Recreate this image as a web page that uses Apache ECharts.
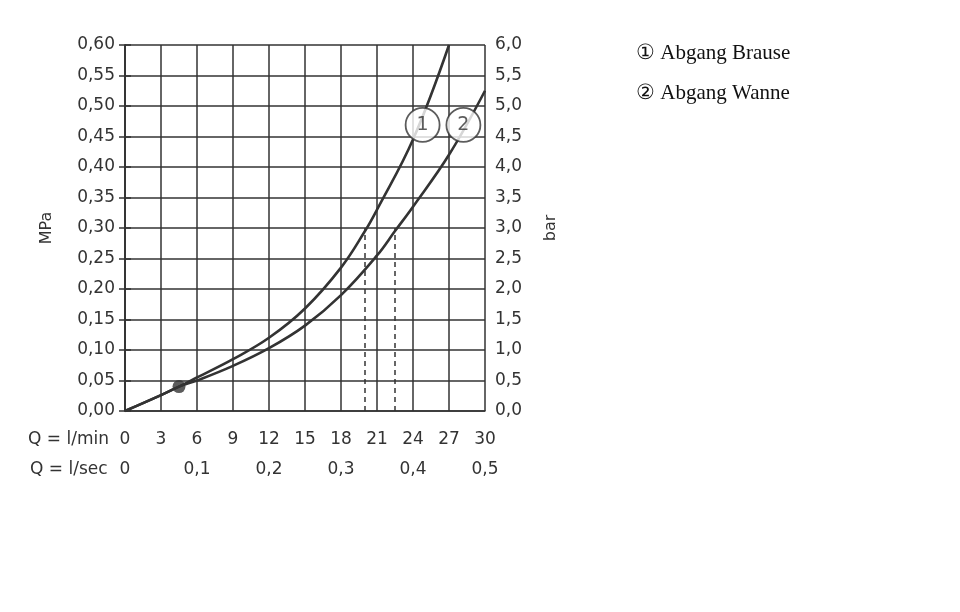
<!DOCTYPE html>
<html><head><meta charset="utf-8">
<script src="https://cdn.jsdelivr.net/npm/echarts@6/dist/echarts.min.js"></script>
<style>html,body{margin:0;background:#fff}#c{width:960px;height:612px}</style>
</head><body><div id="c"></div>
<script>
const curve1Q = [0, 3, 4.5, 6, 9, 12, 15, 18, 20, 21, 24, 27];
const curve1P = [0, 0.026, 0.04, 0.055, 0.085, 0.12, 0.168, 0.235, 0.295, 0.33, 0.445, 0.60];
const curve2Q = [0, 3, 4.5, 6, 9, 12, 15, 18, 21, 22.5, 24, 27, 30];
const curve2P = [0, 0.026, 0.04, 0.05, 0.074, 0.103, 0.14, 0.19, 0.255, 0.295, 0.335, 0.42, 0.525];
const dashedQ = [20, 22.5];
const dashedP = 0.30;
const pointQ = 4.5, pointP = 0.04;
const labelPos = [[24.8, 0.469, '1'], [28.2, 0.469, '2']];
const legendItems = ['① Abgang Brause', '② Abgang Wanne'];
const lsecLabels = {0:'0',6:'0,1',12:'0,2',18:'0,3',24:'0,4',30:'0,5'};

const C = '#333';
const font = 'DejaVu Sans';
const fs = 17;
const chart = echarts.init(document.getElementById('c'));
const zip = (a, b) => a.map((v, i) => [v, b[i]]);
const series = [
  {type:'line', data: zip(curve1Q, curve1P), smooth: 0.4, symbol:'none', lineStyle:{color:C, width:2.6}, z:5},
  {type:'line', data: zip(curve2Q, curve2P), smooth: 0.4, symbol:'none', lineStyle:{color:C, width:2.6}, z:5},
  {type:'scatter', data:[[pointQ, pointP]], symbolSize:13, itemStyle:{color:C}, z:6},
  {type:'scatter', data: labelPos.map(l => [l[0], l[1], l[2]]), symbolSize:34,
    itemStyle:{color:'#fff', borderColor:C, borderWidth:1.8}, z:7,
    label:{show:true, position:'inside', formatter:p=>p.data[2], color:C, fontSize:19, fontFamily:font}}
];
dashedQ.forEach(q => series.push({type:'line', data:[[q,0],[q,dashedP]], symbol:'none', lineStyle:{color:C, width:1.5, type:[5,4]}, z:4}));
const tickFmt = {color:C, fontSize:fs, fontFamily:font};
chart.setOption({
  animation:false,
  grid:{left:125, right:475, top:45, bottom:201},
  xAxis:[
    {type:'value', min:0, max:30, interval:3, position:'bottom',
     axisLine:{lineStyle:{color:C, width:1.5}}, axisTick:{show:false},
     splitLine:{lineStyle:{color:C, width:1.5}},
     axisLabel:Object.assign({margin:20}, tickFmt)},
    {type:'value', min:0, max:30, interval:6, position:'bottom', offset:30,
     axisLine:{show:false}, axisTick:{show:false}, splitLine:{show:false},
     axisLabel:Object.assign({margin:20, formatter:v=>lsecLabels[v]}, tickFmt)}
  ],
  yAxis:[
    {type:'value', min:0, max:0.6, interval:0.05, position:'left',
     name:'MPa', nameLocation:'middle', nameRotate:90, nameGap:70,
     nameTextStyle:{color:C, fontSize:16, fontFamily:font},
     axisLine:{show:true, lineStyle:{color:C, width:1.5}}, axisTick:{show:true, length:6, lineStyle:{color:C, width:1.5}},
     splitLine:{lineStyle:{color:C, width:1.5}},
     axisLabel:Object.assign({margin:10, formatter:v=>v.toFixed(2).replace('.',',')}, tickFmt)},
    {type:'value', min:0, max:6, interval:0.5, position:'right',
     name:'bar', nameLocation:'middle', nameRotate:90, nameGap:58,
     nameTextStyle:{color:C, fontSize:16, fontFamily:font},
     axisLine:{show:true, lineStyle:{color:C, width:1.5}}, axisTick:{show:true, length:6, lineStyle:{color:C, width:1.5}},
     splitLine:{show:false},
     axisLabel:Object.assign({margin:10, formatter:v=>v.toFixed(1).replace('.',',')}, tickFmt)}
  ],
  graphic:[
    {type:'text', left:28, top:431, style:{text:'Q = l/min', fill:C, fontSize:fs, fontFamily:font}},
    {type:'text', left:30, top:461, style:{text:'Q = l/sec', fill:C, fontSize:fs, fontFamily:font}},
    {type:'text', left:636, top:43, style:{text:legendItems[0], fill:'#111', fontSize:21, fontFamily:'Liberation Serif'}},
    {type:'text', left:636, top:83, style:{text:legendItems[1], fill:'#111', fontSize:21, fontFamily:'Liberation Serif'}}
  ],
  series: series
});
</script></body></html>
